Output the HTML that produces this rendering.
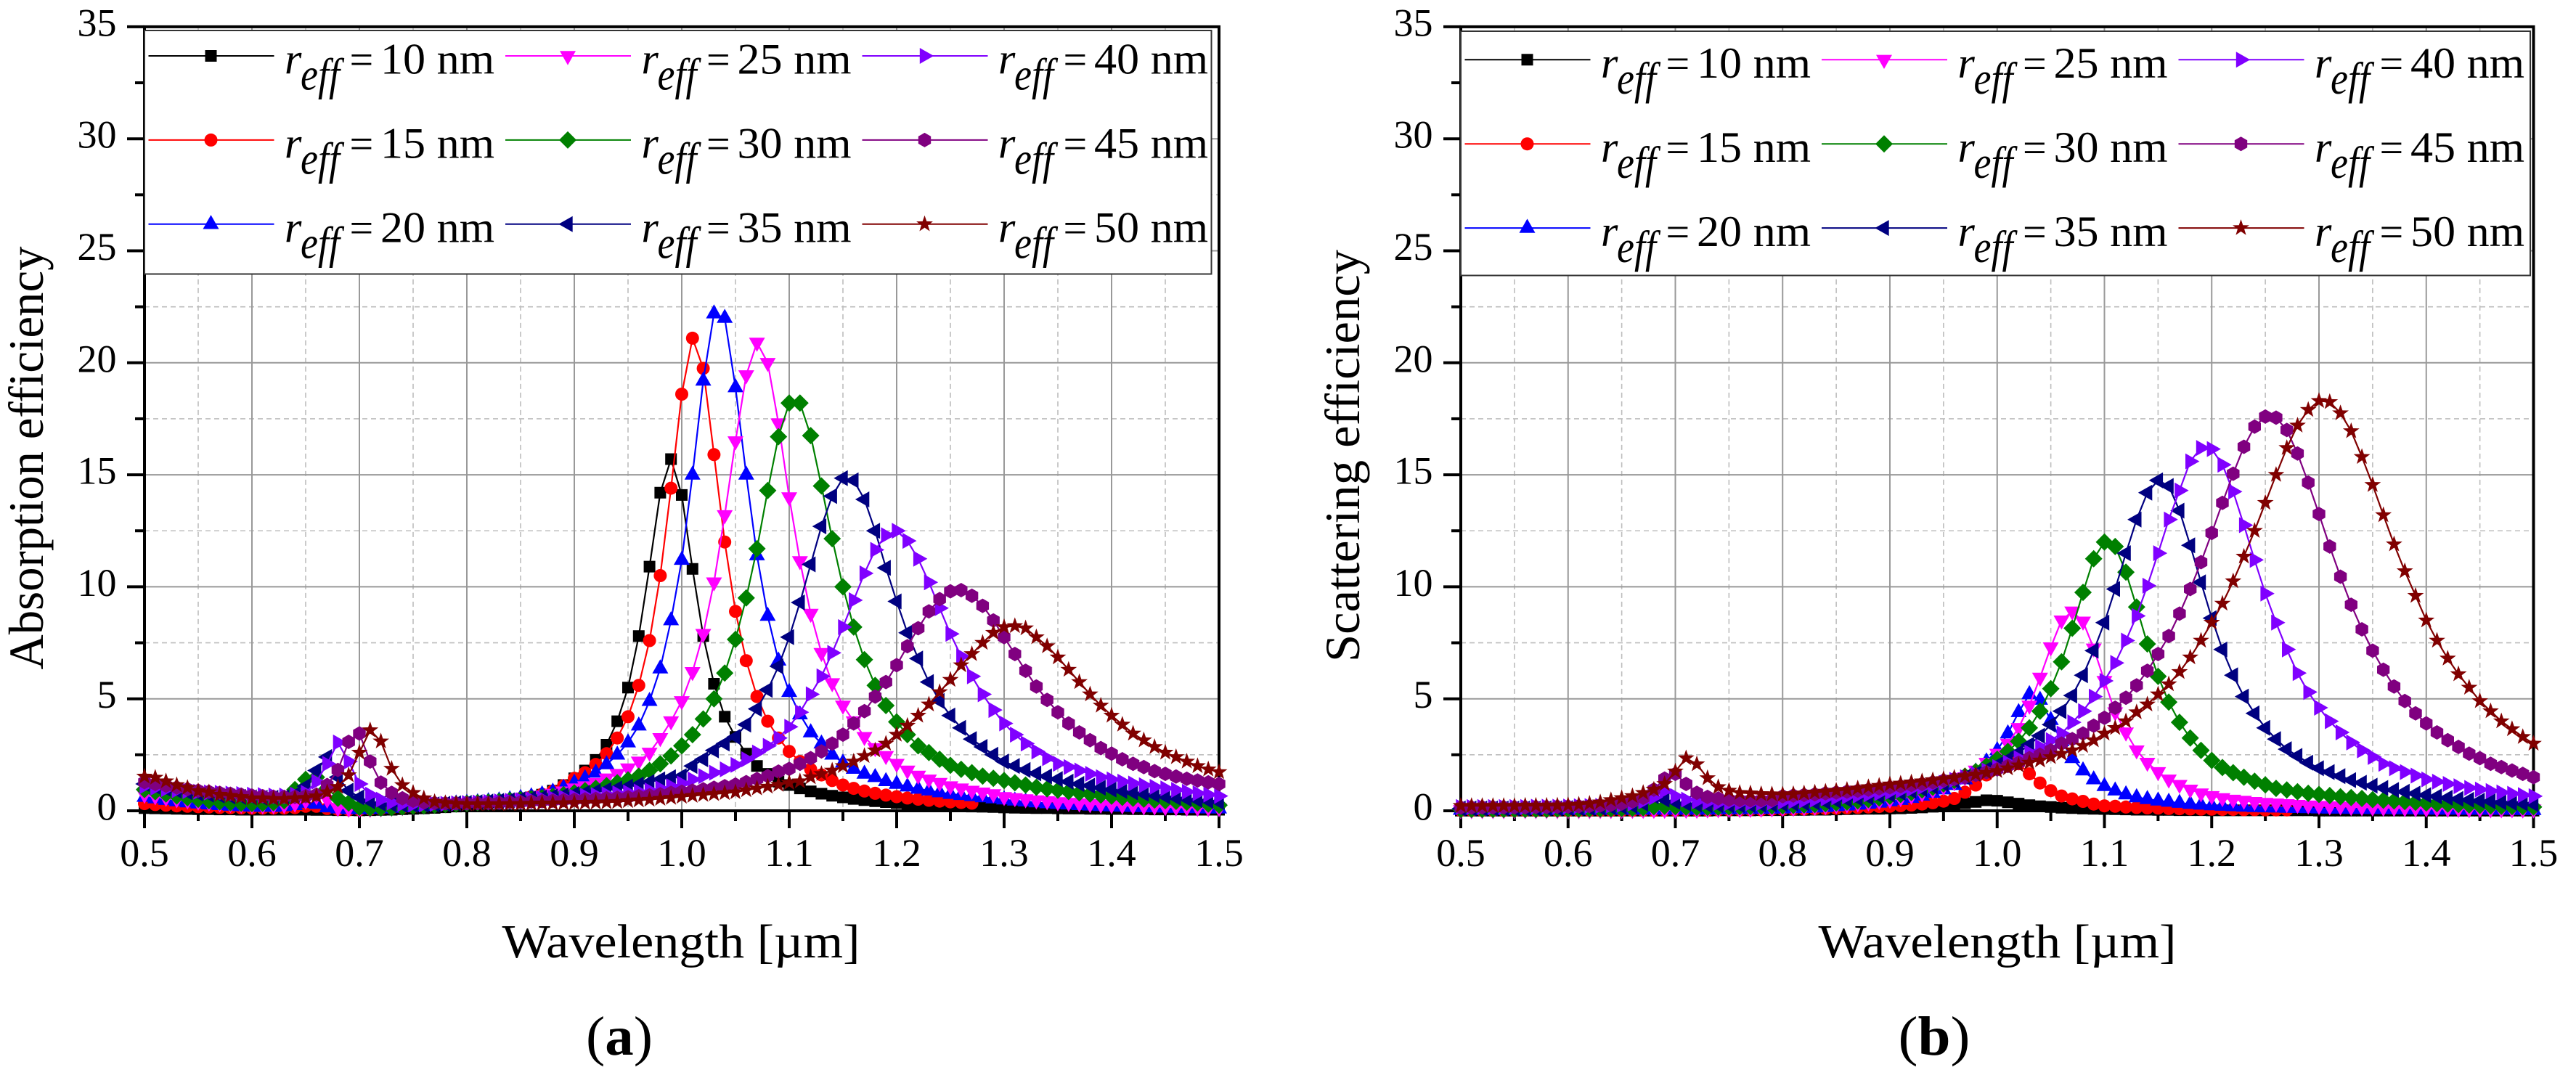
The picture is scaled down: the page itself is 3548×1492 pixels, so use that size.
<!DOCTYPE html>
<html lang="en">
<head>
<meta charset="utf-8">
<title>Absorption and scattering efficiency</title>
<style>
html,body{margin:0;padding:0;background:#fff;}
svg{display:block;}
text{font-family:"Liberation Serif",serif;fill:#000;}
</style>
</head>
<body>
<svg id="figure" xmlns="http://www.w3.org/2000/svg" width="3548" height="1492" viewBox="0 0 3548 1492"></svg>
<script>
const wavelengths=[
0.50,0.51,0.52,0.53,0.54,0.55,0.56,0.57,0.58,0.59,
0.60,0.61,0.62,0.63,0.64,0.65,0.66,0.67,0.68,0.69,
0.70,0.71,0.72,0.73,0.74,0.75,0.76,0.77,0.78,0.79,
0.80,0.81,0.82,0.83,0.84,0.85,0.86,0.87,0.88,0.89,
0.90,0.91,0.92,0.93,0.94,0.95,0.96,0.97,0.98,0.99,
1.00,1.01,1.02,1.03,1.04,1.05,1.06,1.07,1.08,1.09,
1.10,1.11,1.12,1.13,1.14,1.15,1.16,1.17,1.18,1.19,
1.20,1.21,1.22,1.23,1.24,1.25,1.26,1.27,1.28,1.29,
1.30,1.31,1.32,1.33,1.34,1.35,1.36,1.37,1.38,1.39,
1.40,1.41,1.42,1.43,1.44,1.45,1.46,1.47,1.48,1.49,
1.50];
const xTickLabels=["0.5","0.6","0.7","0.8","0.9","1.0","1.1","1.2","1.3","1.4","1.5"];
const xTickValues=[0.5,0.6,0.7,0.8,0.9,1.0,1.1,1.2,1.3,1.4,1.5];
const xMinorValues=[0.55,0.65,0.75,0.85,0.95,1.05,1.15,1.25,1.35,1.45];
const yTickLabels=["0","5","10","15","20","25","30","35"];
const yTickValues=[0,5,10,15,20,25,30,35];
const yMinorValues=[2.5,7.5,12.5,17.5,22.5,27.5,32.5];
const radiusLabels=["10 nm","15 nm","20 nm","25 nm","30 nm","35 nm","40 nm","45 nm","50 nm"];

const absR10=[
.12,.11,.10,.09,.08,.07,.07,.06,.06,.05,
.05,.05,.05,.05,.05,.05,.04,.04,.03,.03,
.02,.03,.04,.05,.07,.09,.11,.13,.16,.19,
.30,.33,.37,.41,.46,.52,.60,.72,.90,1.15,
1.45,1.8,2.27,2.95,4.0,5.5,7.8,10.9,14.2,15.7,
14.1,10.8,7.8,5.67,4.2,3.3,2.55,2.0,1.65,1.3,
1.15,1.0,.87,.76,.67,.6,.53,.48,.43,.39,
.35,.32,.29,.27,.25,.23,.21,.19,.18,.17,
.15,.14,.13,.12,.12,.11,.10,.10,.09,.09,
.08,.08,.07,.07,.06,.06,.06,.05,.05,.05,
.05];
const absR15=[
.32,.28,.25,.22,.20,.18,.17,.15,.14,.13,
.12,.12,.12,.12,.14,.20,.20,.10,.06,.05,
.05,.07,.09,.12,.15,.18,.21,.24,.27,.30,
.33,.36,.40,.44,.49,.55,.63,.74,.88,1.12,
1.45,1.7,2.07,2.55,3.25,4.2,5.6,7.6,10.5,14.4,
18.6,21.1,19.75,15.9,12.0,8.9,6.7,5.1,4.0,3.25,
2.65,2.2,1.85,1.6,1.35,1.15,1.0,.88,.78,.7,
.63,.57,.52,.47,.43,.40,.37,.34];
const absR20=[
.62,.55,.48,.42,.37,.32,.28,.25,.22,.20,
.18,.17,.17,.20,.25,.35,.30,.15,.10,.07,
.06,.08,.10,.13,.16,.19,.22,.26,.29,.32,
.35,.38,.42,.46,.51,.57,.64,.73,.85,1.02,
1.25,1.45,1.7,2.07,2.5,3.05,3.8,4.9,6.35,8.5,
11.2,15.0,19.2,22.2,22.0,18.9,15.0,11.4,8.7,6.7,
5.3,4.3,3.5,3.0,2.5,2.15,1.87,1.65,1.5,1.32,
1.2,1.08,.98,.9,.82,.75,.7,.65,.6,.55,
.5,.45,.41,.37,.33,.3,.28,.25,.23,.21,
.19,.18,.17,.16,.15,.14,.13,.12,.11,.1,
.1];
const absR25=[
.72,.65,.58,.52,.46,.41,.37,.33,.30,.27,
.25,.24,.24,.26,.32,.45,.65,.50,.13,.10,
.08,.09,.11,.14,.17,.20,.23,.27,.30,.33,
.36,.39,.42,.46,.50,.55,.61,.68,.76,.87,
1.0,1.1,1.25,1.45,1.65,1.9,2.2,2.6,3.25,4.0,
4.9,6.2,7.9,10.2,13.2,16.5,19.45,20.9,20,17.3,
14,11.15,8.8,7.05,5.7,4.7,4.0,3.3,2.8,2.45,
2.1,1.8,1.57,1.4,1.25,1.1,1.0,.9,.82,.75,
.62,.57,.52,.47,.43,.39,.36,.33,.3,.28,
.26,.24,.22,.2,.19,.17,.16,.15,.14,.13,
.12];
const absR30=[
.95,.85,.75,.66,.58,.51,.45,.40,.36,.33,
.32,.33,.36,.45,.95,1.4,1.5,1.0,.56,.35,
.15,.12,.12,.14,.17,.20,.22,.25,.28,.30,
.33,.36,.39,.42,.46,.50,.54,.59,.65,.72,
.8,.9,1.0,1.12,1.25,1.38,1.55,1.8,2.1,2.45,
2.9,3.4,4.1,5.0,6.15,7.65,9.5,11.7,14.3,16.7,
18.2,18.2,16.75,14.5,12.15,10,8.2,6.75,5.6,4.7,
3.97,3.4,2.9,2.6,2.3,2.03,1.85,1.7,1.55,1.45,
1.35,1.25,1.15,1.05,.98,.92,.86,.8,.75,.7,
.65,.6,.56,.52,.48,.45,.42,.38,.35,.3,
.25];
const absR35=[
1.2,1.08,.98,.9,.83,.77,.72,.68,.64,.62,
.6,.58,.58,.6,.72,1.1,1.8,2.4,1.5,.9,
.6,.42,.32,.28,.26,.26,.27,.29,.31,.33,
.35,.38,.41,.44,.47,.51,.55,.59,.64,.69,
.75,.8,.87,.93,1.0,1.08,1.17,1.28,1.4,1.5,
1.55,2.0,2.3,2.7,3.0,3.3,3.85,4.55,5.4,6.45,
7.75,9.3,11,12.7,14.05,14.85,14.75,13.9,12.5,10.85,
9.35,7.95,6.8,5.75,4.9,4.25,3.7,3.2,2.85,2.5,
2.2,2.0,1.82,1.67,1.54,1.42,1.3,1.2,1.12,1.03,
.95,.88,.82,.76,.7,.64,.58,.53,.48,.44,
.4];
const absR40=[
1.1,1.03,.97,.92,.88,.85,.82,.8,.77,.75,
.72,.7,.68,.68,.72,.8,1.3,2.1,3.05,2.2,
1.2,.72,.5,.37,.3,.28,.28,.3,.31,.33,
.35,.37,.4,.42,.45,.48,.51,.54,.57,.6,
.63,.67,.7,.74,.78,.82,.86,.91,1.0,1.1,
1.22,1.4,1.55,1.7,1.85,2.05,2.3,2.6,2.9,3.25,
3.75,4.4,5.2,6.0,7.05,8.2,9.4,10.6,11.65,12.3,
12.5,12.05,11.25,10.2,9.05,7.9,6.9,6.0,5.2,4.5,
3.9,3.4,3.0,2.65,2.35,2.1,1.95,1.8,1.65,1.5,
1.4,1.3,1.22,1.14,1.07,1.0,.93,.85,.78,.72,
.66];
const absR45=[
1.28,1.2,1.12,1.04,.97,.9,.85,.8,.76,.72,
.68,.65,.63,.62,.62,.65,.72,1.15,1.82,3.08,
3.45,2.2,1.26,.8,.56,.45,.38,.35,.33,.33,
.33,.34,.35,.36,.38,.39,.41,.43,.45,.47,
.49,.51,.53,.56,.58,.61,.65,.69,.74,.8,
.85,.9,.96,1.03,1.1,1.17,1.28,1.42,1.55,1.75,
1.87,2.1,2.35,2.65,3,3.4,3.9,4.45,5.1,5.75,
6.5,7.35,8.15,8.9,9.45,9.8,9.85,9.6,9.15,8.5,
7.75,7,6.25,5.55,4.95,4.4,3.9,3.5,3.15,2.8,
2.55,2.3,2.1,1.95,1.77,1.65,1.53,1.43,1.35,1.27,
1.2];
const absR50=[
1.53,1.48,1.32,1.15,1.03,.88,.83,.72,.67,.62,
.56,.56,.53,.53,.56,.58,.65,.83,1.07,1.59,
2.6,3.6,3.1,1.88,1.15,.8,.56,.4,.35,.32,
.3,.3,.3,.3,.31,.31,.32,.33,.33,.34,
.35,.36,.37,.38,.4,.44,.47,.5,.54,.58,
.63,.67,.71,.75,.79,.83,.92,1.0,1.08,1.16,
1.25,1.32,1.5,1.65,1.8,2,2.2,2.45,2.7,3,
3.4,3.8,4.25,4.75,5.3,5.85,6.5,7,7.5,7.95,
8.2,8.25,8.15,7.75,7.35,6.85,6.3,5.75,5.2,4.7,
4.25,3.85,3.45,3.15,2.85,2.6,2.4,2.2,2,1.85,
1.73];

const scaR10=[
.01,.01,.01,.01,.01,.01,.01,.01,.01,.01,
.01,.01,.01,.01,.01,.01,.01,.01,.01,.01,
.01,.01,.01,.01,.02,.02,.02,.02,.03,.03,
.03,.04,.04,.05,.05,.06,.07,.08,.09,.09,
.1,.11,.13,.15,.18,.23,.28,.34,.4,.47,
.45,.38,.32,.25,.2,.17,.14,.12,.1,.09,
.08,.07,.06,.05,.05,.04,.04,.03,.03,.03,
.02,.02,.02,.02,.02,.02,.02,.02,.02,.02,
.01,.01,.01,.01,.01,.01,.01,.01,.01,.01,
.01,.01,.01,.01,.01,.01,.01,.01,.01,.01,
.01];
const scaR15=[
.02,.02,.02,.02,.02,.02,.02,.02,.02,.02,
.02,.02,.02,.02,.02,.02,.02,.02,.02,.03,
.03,.03,.03,.03,.04,.04,.04,.05,.05,.06,
.06,.07,.08,.09,.1,.11,.13,.15,.17,.19,
.2,.23,.26,.3,.36,.43,.55,.83,1.15,1.6,
2.0,2.3,2.1,1.65,1.24,.9,.66,.53,.42,.3,
.22,.2,.17,.15,.13,.12,.1,.09,.08,.07,
.07,.06,.06,.05,.05,.04,.04,.04];
const scaR20=[
.04,.04,.04,.04,.04,.04,.04,.04,.04,.04,
.04,.04,.04,.05,.05,.05,.05,.05,.05,.05,
.05,.05,.05,.05,.06,.06,.06,.07,.08,.09,
.1,.11,.12,.14,.16,.2,.23,.27,.31,.36,
.42,.48,.57,.67,.8,.95,1.15,1.4,1.75,2.2,
2.7,3.45,4.4,5.2,4.95,4.05,3.1,2.35,1.8,1.4,
1.1,.9,.73,.6,.52,.45,.4,.35,.3,.27,
.24,.22,.2,.18,.16,.15,.14,.13,.12,.11,
.1,.09,.09,.08,.08,.07,.07,.06,.06,.06,
.05,.05,.05,.05,.04,.04,.04,.04,.04,.03,
.03];
const scaR25=[
.03,.03,.03,.03,.03,.03,.03,.03,.03,.03,
.03,.03,.03,.04,.04,.04,.05,.05,.05,.05,
.05,.05,.05,.06,.07,.08,.08,.09,.1,.11,
.13,.14,.16,.18,.21,.25,.29,.33,.38,.44,
.5,.57,.67,.78,.92,1.08,1.28,1.5,1.8,2.15,
2.55,3,3.7,4.7,5.95,7.3,8.5,8.9,8.45,7.25,
5.8,4.4,3.5,2.7,2.15,1.73,1.4,1.16,.95,.78,
.66,.57,.5,.45,.4,.36,.33,.3,.27,.24,
.22,.2,.19,.17,.16,.15,.14,.13,.12,.11,
.1,.1,.09,.09,.08,.08,.07,.07,.07,.06,
.06];
const scaR30=[
.06,.06,.06,.06,.06,.06,.06,.06,.06,.07,
.07,.07,.08,.08,.09,.1,.11,.13,.18,.2,
.18,.16,.15,.15,.16,.17,.18,.19,.2,.21,
.22,.24,.26,.28,.31,.35,.39,.44,.5,.57,
.65,.73,.82,.93,1.05,1.2,1.35,1.55,1.75,2.0,
2.3,2.65,3.1,3.7,4.45,5.45,6.65,8.15,9.75,11.25,
12,11.8,10.65,9.1,7.45,6,4.85,3.95,3.25,2.7,
2.25,1.93,1.7,1.5,1.32,1.16,1,.93,.85,.78,
.73,.68,.63,.59,.55,.5,.47,.44,.41,.38,
.35,.32,.3,.28,.26,.24,.22,.2,.19,.18,
.17];
const scaR35=[
.1,.1,.1,.1,.1,.1,.1,.1,.11,.11,
.12,.12,.13,.14,.16,.18,.22,.32,.65,.5,
.4,.32,.28,.25,.25,.25,.25,.26,.27,.28,
.3,.32,.34,.37,.4,.45,.5,.55,.6,.66,
.72,.8,.88,.97,1.08,1.2,1.35,1.5,1.65,1.85,
2.05,2.3,2.6,2.95,3.35,3.85,4.45,5.15,6.05,7.15,
8.4,9.9,11.5,13,14.2,14.75,14.5,13.4,11.85,10.2,
8.6,7.2,6.05,5.1,4.35,3.7,3.2,2.75,2.45,2.15,
1.9,1.73,1.55,1.37,1.25,1.12,1.02,.93,.85,.77,
.7,.64,.58,.53,.49,.45,.42,.38,.35,.33,
.3];
const scaR40=[
.17,.17,.17,.17,.17,.17,.17,.18,.18,.18,
.19,.2,.21,.22,.24,.27,.32,.42,.6,.9,
.65,.5,.42,.38,.35,.34,.34,.34,.35,.37,
.4,.43,.46,.5,.55,.6,.64,.68,.73,.78,
.83,.9,.97,1.05,1.15,1.25,1.38,1.5,1.65,1.8,
1.95,2.15,2.35,2.6,2.85,3.15,3.45,3.95,4.45,5.1,
5.8,6.6,7.6,8.7,10.05,11.5,13,14.3,15.6,16.2,
16.15,15.45,14.25,12.75,11.2,9.7,8.4,7.2,6.15,5.3,
4.6,4,3.5,3.05,2.7,2.4,2.1,1.9,1.73,1.57,
1.4,1.3,1.2,1.1,1.02,.95,.88,.82,.76,.7,
.65];
const scaR45=[
.15,.15,.16,.16,.16,.16,.16,.17,.17,.18,
.19,.2,.22,.24,.27,.32,.42,.58,.95,1.44,
1.65,1.2,.8,.62,.55,.5,.48,.47,.47,.48,
.65,.68,.71,.74,.78,.82,.86,.9,.95,1.0,
1.05,1.1,1.15,1.2,1.27,1.35,1.42,1.5,1.6,1.72,
1.85,2,2.15,2.35,2.5,2.7,3,3.2,3.45,3.8,
4.15,4.6,5.05,5.6,6.25,7,7.8,8.8,9.9,11.1,
12.4,13.75,15.05,16.25,17.15,17.6,17.55,17,15.95,14.65,
13.25,11.8,10.45,9.2,8.1,7.15,6.3,5.55,4.9,4.35,
3.9,3.5,3.15,2.85,2.55,2.35,2.1,1.95,1.8,1.65,
1.5];
const scaR50=[
.22,.22,.22,.22,.22,.22,.23,.23,.23,.24,
.25,.28,.32,.38,.48,.57,.66,.8,.95,1.2,
1.76,2.35,2.08,1.46,1.06,.9,.8,.78,.75,.74,
.73,.75,.78,.82,.86,.9,.94,1,1.06,1.12,
1.18,1.22,1.27,1.32,1.37,1.42,1.48,1.55,1.62,1.7,
1.78,1.9,2.03,2.15,2.25,2.4,2.55,2.7,2.9,3.15,
3.45,3.7,4,4.4,4.75,5.2,5.65,6.2,6.85,7.6,
8.4,9.25,10.25,11.35,12.5,13.75,15,16.2,17.2,17.9,
18.3,18.25,17.75,16.95,15.8,14.55,13.2,11.9,10.7,9.6,
8.5,7.6,6.8,6.1,5.5,4.9,4.45,4,3.65,3.3,
3.0];

const seriesColors=["#000000","#ff0000","#0000ff","#ff00ff","#008000","#000080","#8000ff","#800080","#800000"];
const seriesShapes=["square","circle","up","down","diamond","left","right","hexagon","star"];
const absorptionSeries=[absR10,absR15,absR20,absR25,absR30,absR35,absR40,absR45,absR50];
const scatteringSeries=[scaR10,scaR15,scaR20,scaR25,scaR30,scaR35,scaR40,scaR45,scaR50];

const NS="http://www.w3.org/2000/svg";
const svg=document.getElementById("figure");

function make(tag,attrs,parent){
  const el=document.createElementNS(NS,tag);
  for(const k in attrs){el.setAttribute(k,attrs[k]);}
  parent.appendChild(el);
  return el;
}
function poly(pts,cx,cy){
  return pts.map(function(p){return (cx+p[0]).toFixed(1)+","+(cy+p[1]).toFixed(1);}).join(" ");
}
const starPoints=[];
for(let k=0;k<10;k++){
  const r=k%2===0?12:4.8;
  const a=-Math.PI/2+k*Math.PI/5;
  starPoints.push([r*Math.cos(a),r*Math.sin(a)]);
}
const shapePoints={
  square:[[-8,-8],[8,-8],[8,8],[-8,8]],
  up:[[0,-12.7],[11,6.7],[-11,6.7]],
  down:[[0,12.7],[11,-6.7],[-11,-6.7]],
  left:[[-12.7,0],[6.7,-11],[6.7,11]],
  right:[[12.7,0],[-6.7,-11],[-6.7,11]],
  diamond:[[0,-12],[12,0],[0,12],[-12,0]],
  hexagon:[[0,-10],[8.7,-5],[8.7,5],[0,10],[-8.7,5],[-8.7,-5]],
  star:starPoints
};
function drawMarker(parent,shape,color,cx,cy){
  let m;
  if(shape==="circle"){
    m=make("circle",{cx:cx.toFixed(1),cy:cy.toFixed(1),r:9,fill:color},parent);
  }else{
    m=make("polygon",{points:poly(shapePoints[shape],cx,cy),fill:color},parent);
  }
  
  
  return m;
}

function drawPanel(cfg){
  const g=make("g",{},svg);
  
  
  const xScale=function(v){return cfg.x0+(v-0.5)*cfg.xUnit;};
  const yScale=function(v){return 1117-v*30.86;};
  const left=xScale(0.5),right=xScale(1.5),bottom=yScale(0),top=yScale(35);

  const grid=make("g",{},g);
  
  
  xMinorValues.forEach(function(v){
    const l=make("line",{x1:xScale(v),x2:xScale(v),y1:top,y2:bottom,stroke:"#bdbdbd","stroke-width":1.6,"stroke-dasharray":"7 5"},grid);
    
    
  });
  yMinorValues.forEach(function(v){
    const l=make("line",{x1:left,x2:right,y1:yScale(v),y2:yScale(v),stroke:"#bdbdbd","stroke-width":1.6,"stroke-dasharray":"7 5"},grid);
    
    
  });
  xTickValues.forEach(function(v){
    const l=make("line",{x1:xScale(v),x2:xScale(v),y1:top,y2:bottom,stroke:"#999","stroke-width":2},grid);
    
    
  });
  yTickValues.forEach(function(v){
    const l=make("line",{x1:left,x2:right,y1:yScale(v),y2:yScale(v),stroke:"#999","stroke-width":2},grid);
    
    
  });

  const axes=make("g",{},g);
  
  
  const frame=make("rect",{x:left,y:top,width:right-left,height:bottom-top,fill:"none",stroke:"#000","stroke-width":4},axes);
  
  
  xTickValues.forEach(function(v,i){
    const t=make("line",{x1:xScale(v),x2:xScale(v),y1:bottom,y2:bottom+24,stroke:"#000","stroke-width":4},axes);
    
    
    const lab=make("text",{x:xScale(v),y:1193,"text-anchor":"middle","font-size":54},axes);
    lab.textContent=xTickLabels[i];
    
    
  });
  xMinorValues.forEach(function(v){
    const t=make("line",{x1:xScale(v),x2:xScale(v),y1:bottom,y2:bottom+14,stroke:"#000","stroke-width":4},axes);
    
    
  });
  yTickValues.forEach(function(v,i){
    const t=make("line",{x1:left-24,x2:left,y1:yScale(v),y2:yScale(v),stroke:"#000","stroke-width":4},axes);
    
    
    const lab=make("text",{x:left-38.5,y:yScale(v)+12.5,"text-anchor":"end","font-size":54},axes);
    lab.textContent=yTickLabels[i];
    
    
  });
  yMinorValues.forEach(function(v){
    const t=make("line",{x1:left-13,x2:left,y1:yScale(v),y2:yScale(v),stroke:"#000","stroke-width":4},axes);
    
    
  });

  cfg.series.forEach(function(values,s){
    const sg=make("g",{},g);
    
    
    const pts=values.map(function(v,i){return xScale(wavelengths[i]).toFixed(1)+","+yScale(v).toFixed(1);}).join(" ");
    const line=make("polyline",{points:pts,fill:"none",stroke:seriesColors[s],"stroke-width":2.2},sg);
    
    
    values.forEach(function(v,i){
      drawMarker(sg,seriesShapes[s],seriesColors[s],xScale(wavelengths[i]),yScale(v));
    });
  });

  const legend=make("g",{},g);
  
  
  const box=make("rect",{x:left,y:cfg.legendTop,width:cfg.legendRight-left,height:cfg.legendBottom-cfg.legendTop,fill:"#fff",stroke:"#333","stroke-width":2},legend);
  
  
  for(let s=0;s<9;s++){
    const col=Math.floor(s/3),row=s%3;
    const ox=left+col*491.5;
    const ly=cfg.legendFirstRow+row*115.9;
    const entry=make("g",{},legend);
    
    
    const sample=make("line",{x1:ox+5.5,x2:ox+178.5,y1:ly,y2:ly,stroke:seriesColors[s],"stroke-width":2},entry);
    
    
    drawMarker(entry,seriesShapes[s],seriesColors[s],ox+91.5,ly);
    const base=ly+24.7;
    const rText=make("text",{x:ox+193,y:base,"font-size":60,"font-style":"italic"},entry);
    rText.textContent="r";
    
    
    const effText=make("text",{x:ox+215,y:base+22,"font-size":62,"font-style":"italic",textLength:54,lengthAdjust:"spacingAndGlyphs"},entry);
    effText.textContent="eff";
    
    
    const eqText=make("text",{x:ox+282.5,y:base,"font-size":58},entry);
    eqText.textContent="=";
    
    
    const valText=make("text",{x:ox+325,y:base,"font-size":60,textLength:157,lengthAdjust:"spacingAndGlyphs"},entry);
    valText.textContent=radiusLabels[s];
    
    
  }

  const yt=make("text",{transform:"translate("+cfg.yTitleX+","+cfg.yTitleY+") rotate(-90)","text-anchor":"middle","font-size":68,textLength:cfg.yTitleLen,lengthAdjust:"spacingAndGlyphs"},g);
  yt.textContent=cfg.yTitle;
  
  
  const xt=make("text",{x:cfg.xTitleX,y:1319,"text-anchor":"middle","font-size":66,textLength:493,lengthAdjust:"spacingAndGlyphs"},g);
  xt.textContent="Wavelength [µm]";
  
  
  const cap=make("text",{x:cfg.capX,y:1453,"text-anchor":"middle","font-size":76,textLength:cfg.capLen,lengthAdjust:"spacingAndGlyphs"},g);
  
  
  const c1=make("tspan",{},cap);
  c1.textContent="(";
  const c2=make("tspan",{"font-weight":"bold"},cap);
  c2.textContent=cfg.letter;
  const c3=make("tspan",{},cap);
  c3.textContent=")";
}

drawPanel({name:"absorption-panel",x0:199,xUnit:1480,series:absorptionSeries,legendRight:1668.5,legendTop:42,legendBottom:377.5,legendFirstRow:77,
  yTitle:"Absorption efficiency",yTitleX:59,yTitleY:631,yTitleLen:583,xTitleX:938,capX:853,capLen:92,letter:"a"});
drawPanel({name:"scattering-panel",x0:2012,xUnit:1477.5,series:scatteringSeries,legendRight:3485,legendTop:43,legendBottom:379.5,legendFirstRow:82.3,
  yTitle:"Scattering efficiency",yTitleX:1872,yTitleY:628,yTitleLen:568,xTitleX:2751,capX:2664,capLen:99,letter:"b"});
</script>
</body>
</html>
